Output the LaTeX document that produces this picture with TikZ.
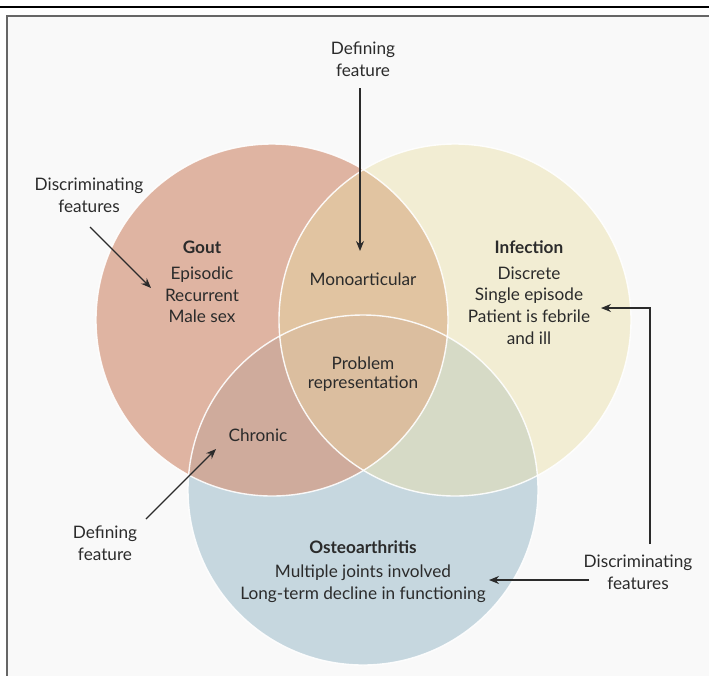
\documentclass[tikz,border=0pt]{standalone}
\usepackage{fontspec}
\setmainfont{Lato}
\usetikzlibrary{arrows.meta}
\definecolor{goutc}{HTML}{DFB4A2}
\definecolor{infc}{HTML}{F2EDD3}
\definecolor{ostc}{HTML}{C6D7DF}
\definecolor{gic}{HTML}{E1C4A1}
\definecolor{goc}{HTML}{CFAB9C}
\definecolor{ioc}{HTML}{D6DAC6}
\definecolor{allc}{HTML}{DBBE9F}
\definecolor{bgc}{HTML}{F9F9F9}
\definecolor{txtc}{HTML}{2B2B2B}
\tikzset{
  lbl/.style={font=\fontsize{17.2}{21.7}\selectfont, text=txtc, align=center, inner sep=0pt},
  ttl/.style={lbl, font=\fontsize{17.2}{21.7}\selectfont\bfseries},
  arr/.style={draw=txtc, line width=1.3pt, -{Stealth[length=10pt,width=8pt]}},
  ring/.style={draw=white, line width=1.4pt, opacity=0.9}
}
\begin{document}
\begin{tikzpicture}[x=1pt,y=-1pt]
\useasboundingbox (0,0) rectangle (709,675);
\fill[white] (0,0) rectangle (709,675);
% frame
\fill[bgc] (7,16) rectangle (712,680);
\draw[draw=gray!80!black, line width=1.5pt] (712,16) -- (7,16) -- (7,680);
\draw[black, line width=1.6pt] (0,7) -- (709,7);
% circles
\coordinate (cg) at (272,320);
\coordinate (ci) at (455,320);
\coordinate (co) at (363,490);
\fill[goutc] (cg) circle (176);
\fill[infc] (ci) circle (176);
\fill[ostc] (co) circle (175);
\begin{scope}
  \clip (cg) circle (176);
  \fill[gic] (ci) circle (176);
  \fill[goc] (co) circle (175);
\end{scope}
\begin{scope}
  \clip (ci) circle (176);
  \fill[ioc] (co) circle (175);
\end{scope}
\begin{scope}
  \clip (cg) circle (176);
  \clip (ci) circle (176);
  \fill[allc] (co) circle (175);
\end{scope}
\draw[ring] (cg) circle (176);
\draw[ring] (ci) circle (176);
\draw[ring] (co) circle (175);
% texts
\node[ttl] (gout) at (202,247) {Gout};
\node[lbl] (goutt) at (202,295) {Episodic\\Recurrent\\Male sex};
\node[ttl] (inf) at (529,247) {Infection};
\node[lbl] (inft) at (529,305.5) {Discrete\\Single episode\\Patient is febrile\\and ill};
\node[lbl] (mono) at (363,279) {Monoarticular};
\node[lbl, font=\fontsize{17.2}{18.5}\selectfont] (prob) at (363,374) {Problem\\representation};
\node[lbl] (chron) at (258,435) {Chronic};
\node[ttl] (ost) at (363,547) {Osteoarthritis};
\node[lbl] (ostt) at (363,583.5) {Multiple joints involved\\Long-term decline in functioning};
\node[lbl] (def1) at (363,59) {Defining\\feature};
\node[lbl] (dis1) at (89,195) {Discriminating\\features};
\node[lbl] (def2) at (105,543) {Defining\\feature};
\node[lbl] (dis2) at (638,572) {Discriminating\\features};
% arrow anchors
\coordinate (a1s) at (360,88);
\coordinate (a1e) at (360,251);
\coordinate (a2s) at (90,227);
\coordinate (a2e) at (151,288);
\coordinate (a3s) at (146,519);
\coordinate (a3e) at (216,449);
\coordinate (a4s) at (650,544);
\coordinate (a4c) at (650,308);
\coordinate (a4e) at (601,308);
\coordinate (a5s) at (589,580);
\coordinate (a5e) at (489,580);
\draw[arr] (a1s) -- (a1e);
\draw[arr] (a2s) -- (a2e);
\draw[arr] (a3s) -- (a3e);
\draw[arr] (a4s) -- (a4c) -- (a4e);
\draw[arr] (a5s) -- (a5e);
\end{tikzpicture}
\end{document}
